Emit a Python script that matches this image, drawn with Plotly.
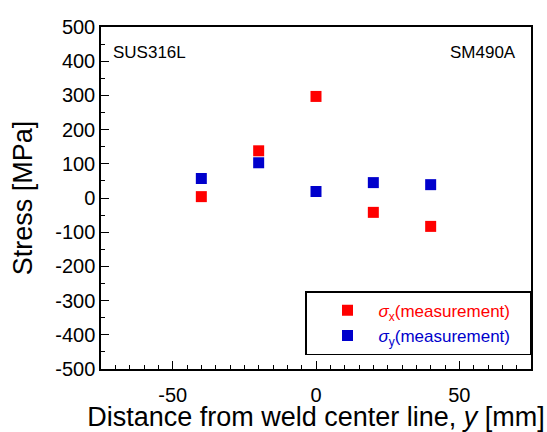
import plotly.graph_objects as go

distance_mm = [-40, -20, 0, 20, 40]
sigma_x = [4, 138, 297, -42, -83]
sigma_y = [57, 103, 19, 45, 39]

x_ticks = [-50, 0, 50]
y_ticks = [-500, -400, -300, -200, -100, 0, 100, 200, 300, 400, 500]

red = "#ff0000"
blue = "#0000cc"
font = "Liberation Sans, Arial, sans-serif"
pad = "&nbsp;" * 3

fig = go.Figure()
fig.add_trace(go.Scatter(
    x=distance_mm, y=sigma_x, mode="markers",
    marker=dict(symbol="square", size=11, color=red),
    name=f"<span style='color:{red}'><i>σ</i><sub>x</sub>(measurement){pad}</span>",
))
fig.add_trace(go.Scatter(
    x=distance_mm, y=sigma_y, mode="markers",
    marker=dict(symbol="square", size=11, color=blue),
    name=f"<span style='color:{blue}'><i>σ</i><sub>y</sub>(measurement){pad}</span>",
))

axis_common = dict(
    showgrid=False, zeroline=False, showline=True, linecolor="black", linewidth=1.5,
    mirror=True, ticks="inside", tickcolor="black", tickwidth=1.2, ticklen=8,
    tickfont=dict(size=20, color="black", family=font), automargin=False,
)
fig.update_layout(
    width=547, height=432,
    margin=dict(l=101, r=16, t=27, b=63),
    paper_bgcolor="white", plot_bgcolor="white",
    font=dict(family=font, color="black"),
    xaxis=dict(range=[-75, 75], tickvals=x_ticks, ticktext=[str(v) for v in x_ticks],
               ticklabelposition="outside", ticklabelstandoff=7,
               minor=dict(dtick=5, ticks="inside", ticklen=4, tickcolor="black", tickwidth=1),
               title=dict(text="Distance from weld center line, <i>y</i> [mm]", font=dict(size=27),
                          standoff=3),
               **axis_common),
    yaxis=dict(range=[-500, 500], tickvals=y_ticks, ticktext=[str(v) for v in y_ticks],
               minor=dict(dtick=50, ticks="inside", ticklen=4, tickcolor="black", tickwidth=1),
               title=dict(text="Stress [MPa]", font=dict(size=27)),
               **axis_common),
    legend=dict(x=1, xanchor="right", y=0.04, yanchor="bottom",
                bordercolor="black", borderwidth=1.5, bgcolor="white",
                font=dict(size=17, family=font), itemwidth=52, indentation=10,
                tracegroupgap=0),
    showlegend=True,
    annotations=[
        dict(text="SUS316L", x=0.024, y=0.925, xref="paper", yref="paper",
             xanchor="left", yanchor="middle", showarrow=False, font=dict(size=17)),
        dict(text="SM490A", x=0.97, y=0.925, xref="paper", yref="paper",
             xanchor="right", yanchor="middle", showarrow=False, font=dict(size=17)),
    ],
)
fig.write_html("out.html", config={"displayModeBar": False},
               post_script="document.body.style.margin='0';document.body.style.overflow='hidden';")
